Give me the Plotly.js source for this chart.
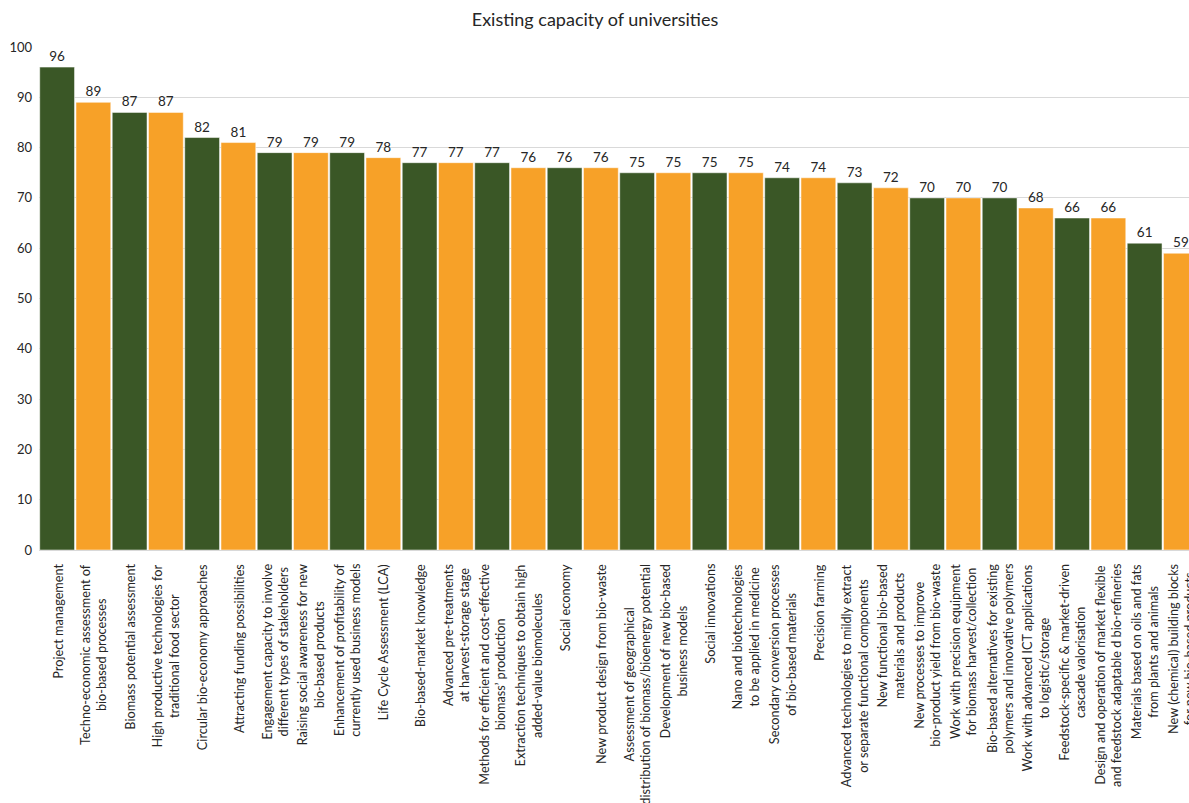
<!DOCTYPE html>
<html>
<head>
<meta charset="utf-8">
<script src="https://cdn.plot.ly/plotly-3.0.1.min.js"></script>
<style>
html, body { margin: 0; padding: 0; overflow: hidden; background: #fff; }
#chart { width: 1210px; height: 803px; }
</style>
</head>
<body>
<div id="chart"></div>
<script>
const categories = [
  "Project management",
  "Techno-economic assessment of<br>bio-based processes",
  "Biomass potential assessment",
  "High productive technologies for<br>traditional food sector",
  "Circular bio-economy approaches",
  "Attracting funding possibilities",
  "Engagement capacity to involve<br>different types of stakeholders",
  "Raising social awareness for new<br>bio-based products",
  "Enhancement of profitability of<br>currently used business models",
  "Life Cycle Assessment (LCA)",
  "Bio-based-market knowledge",
  "Advanced pre-treatments<br>at harvest-storage stage",
  "Methods for efficient and cost-effective<br>biomass’ production",
  "Extraction techniques to obtain high<br>added-value biomolecules",
  "Social economy",
  "New product design from bio-waste",
  "Assessment of geographical<br>distribution of biomass/bioenergy potential",
  "Development of new bio-based<br>business models",
  "Social innovations",
  "Nano and biotechnologies<br>to be applied in medicine",
  "Secondary conversion processes<br>of bio-based materials",
  "Precision farming",
  "Advanced technologies to mildly extract<br>or separate functional components",
  "New functional bio-based<br>materials and products",
  "New processes to improve<br>bio-product yield from bio-waste",
  "Work with precision equipment<br>for biomass harvest/collection",
  "Bio-based alternatives for existing<br>polymers and innovative polymers",
  "Work with advanced ICT applications<br>to logistic/storage",
  "Feedstock-specific & market-driven<br>cascade valorisation",
  "Design and operation of market flexible<br>and feedstock adaptable d bio-refineries",
  "Materials based on oils and fats<br>from plants and animals",
  "New (chemical) building blocks<br>for new bio-based products"
];
const values = [96, 89, 87, 87, 82, 81, 79, 79, 79, 78, 77, 77, 77, 76, 76, 76,
                75, 75, 75, 75, 74, 74, 73, 72, 70, 70, 70, 68, 66, 66, 61, 59];
const yTicks = [0, 10, 20, 30, 40, 50, 60, 70, 80, 90, 100];
const palette = ["#3a5726", "#f7a128"];

const FONT = "Lato, 'Open Sans', sans-serif";

// pick a label font size so that the label text runs about as long as in the reference
function fitSize(sample, targetPx, family) {
  const ctx = document.createElement("canvas").getContext("2d");
  ctx.font = "20px " + family;
  const w = ctx.measureText(sample).width;
  return Math.round(20 * targetPx / w * 10) / 10;
}
const labelSize = fitSize("Advanced technologies to mildly extract", 222, "Lato");

const idx = categories.map((c, i) => i);
const barColors = idx.map(i => palette[i % 2]);

const trace = {
  type: "bar",
  x: idx,
  y: values,
  text: values.map(String),
  textposition: "outside",
  cliponaxis: false,
  textfont: { family: FONT, size: 13.5, color: "#262626" },
  marker: { color: barColors, line: { color: "#ffffff", width: 0.5 } },
  hoverinfo: "y"
};

const catLabels = categories.map((c, i) => ({
  x: i, xref: "x",
  y: 0, yref: "paper",
  yshift: -12,
  text: c,
  textangle: -90,
  align: "center",
  xanchor: "center",
  yanchor: "top",
  showarrow: false,
  font: { family: FONT, size: labelSize, color: "#262626" }
}));

const layout = {
  width: 1210,
  height: 803,
  margin: { l: 39, r: 11, t: 47, b: 253 },
  paper_bgcolor: "#ffffff",
  plot_bgcolor: "#ffffff",
  bargap: 0.04,
  showlegend: false,
  font: { family: FONT, size: 13, color: "#262626" },
  title: {
    text: "Existing capacity of universities",
    font: { family: FONT, size: 18, color: "#262626" },
    x: 595 / 1210, xref: "container", xanchor: "center",
    y: 1 - 20 / 803, yref: "container", yanchor: "middle"
  },
  xaxis: {
    type: "linear",
    range: [-0.5, categories.length - 0.5],
    tickmode: "array",
    tickvals: idx,
    showticklabels: false,
    ticks: "",
    showgrid: false,
    zeroline: false,
    showline: true,
    linecolor: "#d9d9d9",
    linewidth: 1,
    fixedrange: true
  },
  yaxis: {
    range: [0, 100],
    tickmode: "array",
    tickvals: yTicks,
    ticktext: yTicks.map(String),
    showgrid: true,
    gridcolor: "#d9d9d9",
    gridwidth: 1,
    zeroline: false,
    showline: false,
    ticks: "",
    ticklabelstandoff: 6,
    tickfont: { family: FONT, size: 13, color: "#262626" },
    fixedrange: true
  },
  annotations: catLabels
};

Plotly.newPlot("chart", [trace], layout, { displayModeBar: false, responsive: false });
</script>
</body>
</html>
